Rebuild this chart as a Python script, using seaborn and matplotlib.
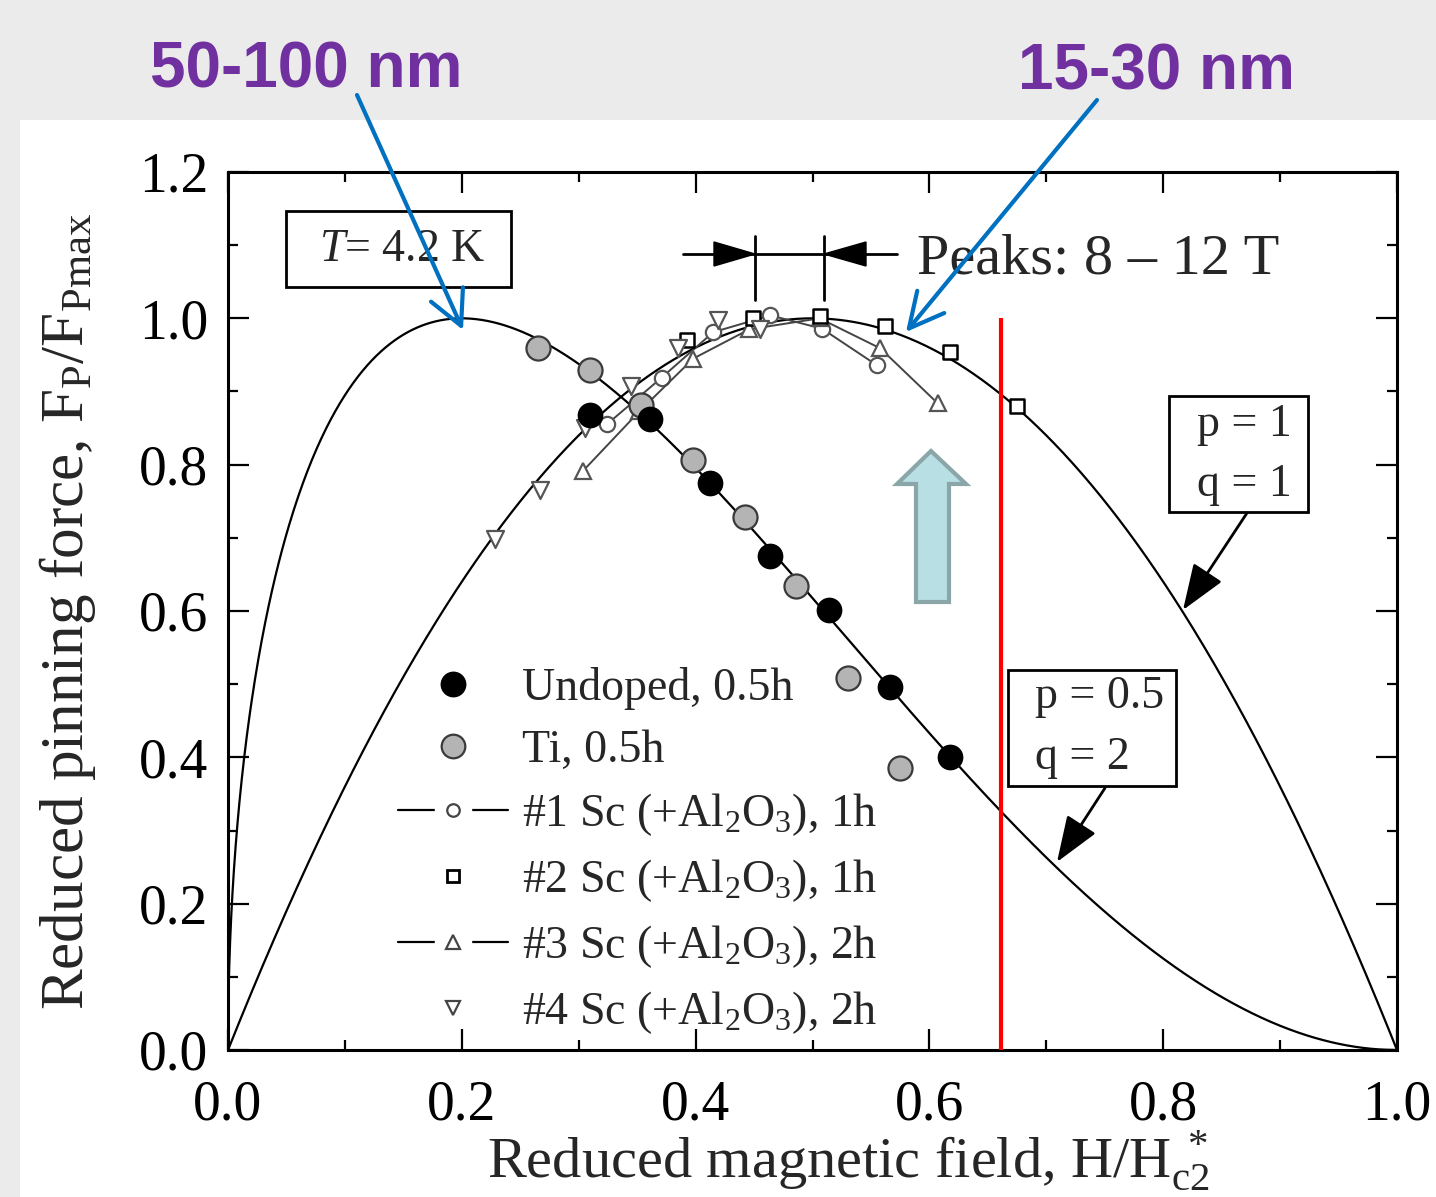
import numpy as np
import pandas as pd
import matplotlib
matplotlib.use("Agg")
import matplotlib.pyplot as plt
import seaborn as sns
from matplotlib.patches import Rectangle, Polygon, FancyArrowPatch
from matplotlib.lines import Line2D
from matplotlib.transforms import Affine2D
from matplotlib.legend_handler import HandlerTuple
from matplotlib.ticker import MultipleLocator, FormatStrFormatter

# ---------------- data ----------------
undoped_h = [0.310, 0.361, 0.412, 0.464, 0.514, 0.566, 0.618]
undoped_f = [0.868, 0.862, 0.775, 0.675, 0.601, 0.496, 0.400]

ti_h = [0.265, 0.310, 0.353, 0.398, 0.442, 0.486, 0.530, 0.575]
ti_f = [0.959, 0.930, 0.881, 0.806, 0.729, 0.634, 0.508, 0.385]

sc1_h = [0.324, 0.371, 0.415, 0.464, 0.508, 0.555]
sc1_f = [0.855, 0.919, 0.981, 1.004, 0.986, 0.936]

sc2_h = [0.393, 0.449, 0.506, 0.562, 0.618, 0.675]
sc2_f = [0.970, 1.000, 1.003, 0.989, 0.954, 0.880]

sc3_h = [0.304, 0.352, 0.398, 0.446, 0.506, 0.558, 0.607]
sc3_f = [0.792, 0.873, 0.945, 0.985, 1.000, 0.959, 0.884]

sc4_h = [0.228, 0.267, 0.305, 0.345, 0.385, 0.419, 0.455]
sc4_f = [0.699, 0.765, 0.850, 0.908, 0.960, 0.998, 0.986]

# Kramer scaling-law fits shown in the chart (p, q)
kramer_p = [0.5, 1.0]
kramer_q = [2.0, 1.0]

red_line_x = 0.661
red_line_top = 1.0

legend_labels = [
    "Undoped, 0.5h",
    "Ti, 0.5h",
    r"#1 Sc (+Al$_2$O$_3$), 1h",
    r"#2 Sc (+Al$_2$O$_3$), 1h",
    r"#3 Sc (+Al$_2$O$_3$), 2h",
    r"#4 Sc (+Al$_2$O$_3$), 2h",
]
x_ticks = [0.0, 0.2, 0.4, 0.6, 0.8, 1.0]
y_ticks = [0.0, 0.2, 0.4, 0.6, 0.8, 1.0, 1.2]

# ---------------- style ----------------
W, H = 1436, 1197
sns.set_theme(style="ticks")
plt.rcParams["font.family"] = ["Liberation Serif", "DejaVu Serif"]
plt.rcParams["mathtext.fontset"] = "custom"
plt.rcParams["mathtext.rm"] = "Liberation Serif"
plt.rcParams["mathtext.it"] = "Liberation Serif:italic"
plt.rcParams["mathtext.bf"] = "Liberation Serif:bold"

fig = plt.figure(figsize=(W / 100, H / 100), dpi=100, facecolor="#ebebeb")
PX = Affine2D().scale(1 / W, -1 / H).translate(0, 1) + fig.transFigure

# white slide panel
fig.add_artist(Rectangle((20, 120), W - 20, H - 120, transform=PX,
                         facecolor="white", edgecolor="none", zorder=-1))

ax = fig.add_axes([228 / W, 1 - 1050 / H, (1397 - 228) / W, (1050 - 172) / H])
ax.set_facecolor("white")
ax.set_xlim(0, 1)
ax.set_ylim(0, 1.2)

# Kramer curves
hh = np.concatenate([np.linspace(0, 0.02, 400), np.linspace(0.02, 1, 1000)])
for p, q in zip(kramer_p, kramer_q):
    ff = hh ** p * (1 - hh) ** q
    ff = ff / ff.max()
    sns.lineplot(x=hh, y=ff, color="black", lw=1.6, estimator=None, sort=False,
                 ax=ax, zorder=2)

# red vertical line
ax.vlines(red_line_x, 0, red_line_top, color="#ff0000", lw=3.0, zorder=6)

# Sc #1 and #3 (connected)
sns.lineplot(x=sc1_h, y=sc1_f, color="#444444", lw=1.4, marker="o", markersize=11,
             markerfacecolor="white", markeredgecolor="#555555", markeredgewidth=1.6,
             estimator=None, ax=ax, zorder=4)
sns.lineplot(x=sc3_h, y=sc3_f, color="#444444", lw=1.4, marker="^", markersize=12,
             markerfacecolor="white", markeredgecolor="#555555", markeredgewidth=1.6,
             estimator=None, ax=ax, zorder=4)
# Sc #2 and #4
sns.scatterplot(x=sc2_h, y=sc2_f, marker="s", s=95, color="white",
                edgecolor="black", linewidth=1.8, ax=ax, zorder=5)
sns.scatterplot(x=sc4_h, y=sc4_f, marker="v", s=150, color="white",
                edgecolor="#555555", linewidth=1.6, ax=ax, zorder=5)
# Undoped and Ti
sns.scatterplot(x=ti_h, y=ti_f, marker="o", s=300, color="#b4b4b4",
                edgecolor="#3a3a3a", linewidth=1.6, ax=ax, zorder=5)
sns.scatterplot(x=undoped_h, y=undoped_f, marker="o", s=300, color="black",
                edgecolor="black", linewidth=1.2, ax=ax, zorder=5)

# axes styling
ax.xaxis.set_major_locator(plt.FixedLocator(x_ticks))
ax.yaxis.set_major_locator(plt.FixedLocator(y_ticks))
ax.xaxis.set_minor_locator(MultipleLocator(0.1))
ax.yaxis.set_minor_locator(MultipleLocator(0.1))
ax.xaxis.set_major_formatter(FormatStrFormatter("%.1f"))
ax.yaxis.set_major_formatter(FormatStrFormatter("%.1f"))
ax.tick_params(which="both", direction="in", top=True, right=True,
               width=1.6, color="black", labelcolor="black")
ax.tick_params(which="major", length=15, labelsize=40)
ax.tick_params(which="minor", length=7.5)
ax.tick_params(axis="x", which="major", pad=21)
ax.tick_params(axis="y", which="major", pad=14)
for s in ax.spines.values():
    s.set_linewidth(2.2)
    s.set_color("black")
ax.set_xlabel("")
ax.set_ylabel("")

# axis titles
fig.text(68, 611, r"Reduced pinning force, F$_\mathrm{P}$/F$_\mathrm{Pmax}$",
         transform=PX, rotation=90, fontsize=44, ha="center", va="center")
fig.text(848, 1160, r"Reduced magnetic field, H/H$_\mathrm{c2}^{\ *}$",
         transform=PX, fontsize=42, ha="center", va="center")

# legend
def mk(marker, ms, fc, ec, mew=1.6):
    return Line2D([], [], ls="none", marker=marker, ms=ms, mfc=fc, mec=ec, mew=mew)

def lined(marker, ms):
    return (Line2D([], [], color="black", lw=1.6),
            Line2D([], [], ls="none", marker="o", ms=27, mfc="white", mec="none"),
            mk(marker, ms, "white", "#444444"))

handles = [
    mk("o", 17, "black", "black"),
    mk("o", 17, "#b4b4b4", "#3a3a3a"),
    lined("o", 9),
    mk("s", 9, "white", "black", 2.0),
    lined("^", 10),
    mk("v", 10, "white", "#444444"),
]
leg = ax.legend(handles, legend_labels, handler_map={tuple: HandlerTuple(ndivide=1, pad=0)},
                frameon=False, fontsize=33, loc="upper left",
                bbox_to_anchor=(398, 667), bbox_transform=PX,
                handlelength=2.4, handletextpad=0.3, labelspacing=0.42,
                borderpad=0, borderaxespad=0)
leg.set_zorder(7)

# ---------------- annotations ----------------
# T = 4.2 K box
fig.add_artist(Rectangle((286, 211), 225, 76, transform=PX, fill=False,
                         edgecolor="black", lw=2))
fig.text(402, 250, r"$T$= 4.2 K", transform=PX, fontsize=33, ha="center", va="center")

# p/q boxes
fig.add_artist(Rectangle((1169, 396), 139, 116, transform=PX, fill=False,
                         edgecolor="black", lw=2))
fig.text(1197, 425, "p = 1", transform=PX, fontsize=33, ha="left", va="center")
fig.text(1197, 485, "q = 1", transform=PX, fontsize=33, ha="left", va="center")
fig.add_artist(Rectangle((1008, 670), 168, 116, transform=PX, fill=False,
                         edgecolor="black", lw=2))
fig.text(1035, 697, "p = 0.5", transform=PX, fontsize=33, ha="left", va="center")
fig.text(1035, 758, "q = 2", transform=PX, fontsize=33, ha="left", va="center")

for a, b in [((1247, 513), (1183, 610)), ((1105, 788), (1057, 862))]:
    fig.add_artist(FancyArrowPatch(a, b, transform=PX,
                                   arrowstyle="-|>,head_length=0.75,head_width=0.28",
                                   mutation_scale=38, lw=2, color="black",
                                   shrinkA=0, shrinkB=0))

# Peaks indicator
fig.text(917, 260, "Peaks: 8 \u2013 12 T", transform=PX, fontsize=42,
         ha="left", va="center")
fig.add_artist(Line2D([683, 897], [254, 254], transform=PX, color="black", lw=2))
for xv in (755, 824):
    fig.add_artist(Line2D([xv, xv], [236, 300], transform=PX, color="black", lw=2))
fig.add_artist(Polygon([(714, 242), (755, 254), (714, 266)], closed=True,
                       transform=PX, facecolor="black", edgecolor="black"))
fig.add_artist(Polygon([(866, 242), (824, 254), (866, 266)], closed=True,
                       transform=PX, facecolor="black", edgecolor="black"))

# light-blue block arrow
fig.add_artist(Polygon([(916, 602), (949, 602), (949, 484), (966, 484),
                        (931, 451), (897, 484), (916, 484)], closed=True,
                       transform=PX, facecolor="#b8dfe3", edgecolor="#8aa6a8",
                       lw=3, zorder=3))

# purple size labels
fig.text(306, 70, "50-100 nm", transform=PX, fontsize=46, fontweight="bold",
         family=["Liberation Sans", "DejaVu Sans"], color="#7030a0",
         ha="center", va="center")
fig.text(1157, 73, "15-30 nm", transform=PX, fontsize=46, fontweight="bold",
         family=["Liberation Sans", "DejaVu Sans"], color="#7030a0",
         ha="center", va="center")

# blue pointer arrows
for a, b in [((357, 95), (463, 330)), ((1097, 100), (906, 332))]:
    fig.add_artist(FancyArrowPatch(a, b, transform=PX,
                                   arrowstyle="->,head_length=0.55,head_width=0.28",
                                   mutation_scale=45, lw=3, color="#0070c0",
                                   shrinkA=0, shrinkB=0, zorder=8))

fig.savefig("out.png", dpi=100, facecolor=fig.get_facecolor())
